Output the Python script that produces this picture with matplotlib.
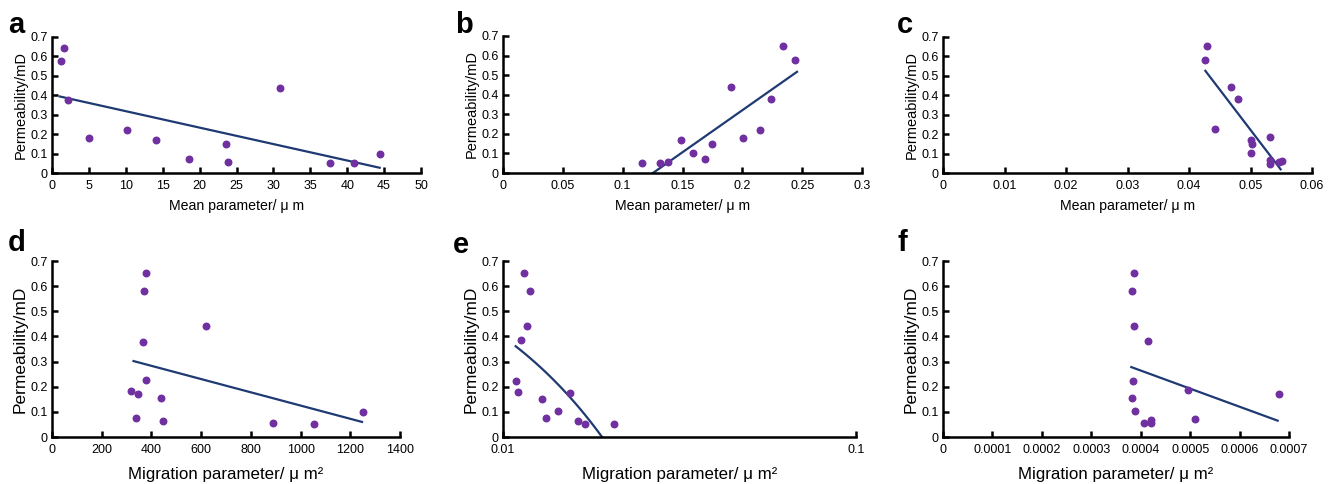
import numpy as np
import matplotlib; matplotlib.use("Agg"); import matplotlib.pyplot as plt
from matplotlib.ticker import FuncFormatter

plt.rcParams["font.family"] = ["Liberation Sans", "DejaVu Sans"]

# permeability (mD), same samples across panels
k_a = [0.578, 0.645, 0.378, 0.178, 0.222, 0.169, 0.070, 0.149, 0.058, 0.436, 0.051, 0.051, 0.099]
x_a = [1.17, 1.67, 2.17, 4.97, 10.1, 14.05, 18.6, 23.6, 23.85, 30.9, 37.7, 40.96, 44.4]
fit_a = ([1.04, 44.4], [0.394, 0.027])

k_b = [0.051, 0.051, 0.057, 0.169, 0.100, 0.069, 0.150, 0.440, 0.179, 0.220, 0.377, 0.649, 0.578]
x_b = [0.116, 0.131, 0.138, 0.149, 0.159, 0.169, 0.175, 0.1905, 0.2006, 0.215, 0.224, 0.234, 0.244]
fit_b = ([0.1253, 0.2457], [0.0, 0.517])

k_c = [0.581, 0.652, 0.224, 0.442, 0.380, 0.172, 0.150, 0.103, 0.184, 0.067, 0.048, 0.055, 0.064]
x_c = [0.04266, 0.04298, 0.04423, 0.04688, 0.04797, 0.05014, 0.0503, 0.05014, 0.05312, 0.05312, 0.05312, 0.05469, 0.05507]
fit_c = ([0.04266, 0.0549], [0.526, 0.019])

k_d = [0.184, 0.074, 0.172, 0.378, 0.582, 0.652, 0.227, 0.155, 0.062, 0.443, 0.054, 0.053, 0.101]
x_d = [317, 339, 347, 367, 372, 378, 379, 439, 447, 619, 890, 1056, 1250]
fit_d = ([328, 1247], [0.302, 0.060])

k_e = [0.221, 0.179, 0.384, 0.652, 0.440, 0.582, 0.152, 0.074, 0.105, 0.174, 0.065, 0.053, 0.053]
x_e = [0.01091, 0.01105, 0.01122, 0.01149, 0.01170, 0.01193, 0.01287, 0.01321, 0.01429, 0.01545, 0.01627, 0.01704, 0.02063]
fit_e = ([0.01086, 0.01908], [0.361, 0.0])

k_f = [0.582, 0.651, 0.441, 0.224, 0.156, 0.103, 0.054, 0.383, 0.068, 0.054, 0.186, 0.072, 0.171]
x_f = [0.0003824, 0.0003857, 0.0003871, 0.0003837, 0.0003824, 0.0003884, 0.0004073, 0.0004141, 0.0004215, 0.0004215, 0.000495, 0.0005098, 0.000679]
fit_f = ([0.000381, 0.000677], [0.278, 0.065])

xticks_a = [0, 5, 10, 15, 20, 25, 30, 35, 40, 45, 50]
xticks_b = [0, 0.05, 0.1, 0.15, 0.2, 0.25, 0.3]
xticks_c = [0, 0.01, 0.02, 0.03, 0.04, 0.05, 0.06]
xticks_d = [0, 200, 400, 600, 800, 1000, 1200, 1400]
xticks_e = [0.01, 0.1]
xticks_f = [0, 0.0001, 0.0002, 0.0003, 0.0004, 0.0005, 0.0006, 0.0007]
yticks = [0, 0.1, 0.2, 0.3, 0.4, 0.5, 0.6, 0.7]

mean_lab = "Mean parameter/ \u03bc m"
mig_lab = "Migration parameter/ \u03bc m\u00b2"

W, H = 1338, 484
DOT = "#7030a0"; LINE = "#1f3a73"
fig = plt.figure(figsize=(W / 100, H / 100), dpi=100)

def px(l, r, t, b):
    return [l / W, (H - b) / H, (r - l) / W, (b - t) / H]

# label, axes box, x, k, fit, xticks, xlabel, log x, xlabel size, ylabel size, xlabel pad, letter pos (px)
panels = [
    ("a", px(52, 421, 37, 173), x_a, k_a, fit_a, xticks_a, mean_lab, False, 10.2, 10.5, 5, (8, 33)),
    ("b", px(503, 862, 36, 173), x_b, k_b, fit_b, xticks_b, mean_lab, False, 10.2, 10.5, 5, (455, 33)),
    ("c", px(943, 1312, 37, 173), x_c, k_c, fit_c, xticks_c, mean_lab, False, 10.2, 10.5, 5, (897, 33)),
    ("d", px(52, 400, 261, 437), x_d, k_d, fit_d, xticks_d, mig_lab, False, 12.2, 12.5, 8, (8, 251)),
    ("e", px(503, 856, 261, 437), x_e, k_e, fit_e, xticks_e, mig_lab, True, 12.2, 12.5, 8, (453, 253)),
    ("f", px(943, 1289, 261, 437), x_f, k_f, fit_f, xticks_f, mig_lab, False, 12.2, 12.5, 8, (897, 251)),
]

for lab, rect, xs, ks, fit, xt, xl, logx, xfs, yfs, xpad, lp in panels:
    ax = fig.add_axes(rect)
    if logx:
        ax.set_xscale("log")
        ax.minorticks_off()
    fx = np.linspace(fit[0][0], fit[0][1], 100)
    fy = np.interp(fx, fit[0], fit[1])
    ax.plot(fx, fy, color=LINE, lw=1.6, zorder=2)
    ax.scatter(xs, ks, s=22, color=DOT, zorder=3, clip_on=False)
    ax.set_xlim(xt[0], xt[-1]); ax.set_ylim(0, 0.7)
    ax.set_xticks(xt); ax.set_yticks(yticks)
    ax.xaxis.set_major_formatter(FuncFormatter(lambda v, p: "%g" % v))
    ax.yaxis.set_major_formatter(FuncFormatter(lambda v, p: "%g" % v))
    for s in ["top", "right"]:
        ax.spines[s].set_visible(False)
    for s in ["left", "bottom"]:
        ax.spines[s].set_linewidth(1.8)
    ax.tick_params(direction="in", length=4, width=1.8, labelsize=9, pad=3)
    ax.tick_params(axis="x", pad=5)
    ax.set_xlabel(xl, fontsize=xfs, labelpad=xpad)
    ax.set_ylabel("Permeability/mD", fontsize=yfs, labelpad=2)
    fig.text(lp[0] / W, 1 - lp[1] / H, lab, fontsize=21, fontweight="bold", va="baseline", ha="left")

fig.savefig("out.png", dpi=100)
